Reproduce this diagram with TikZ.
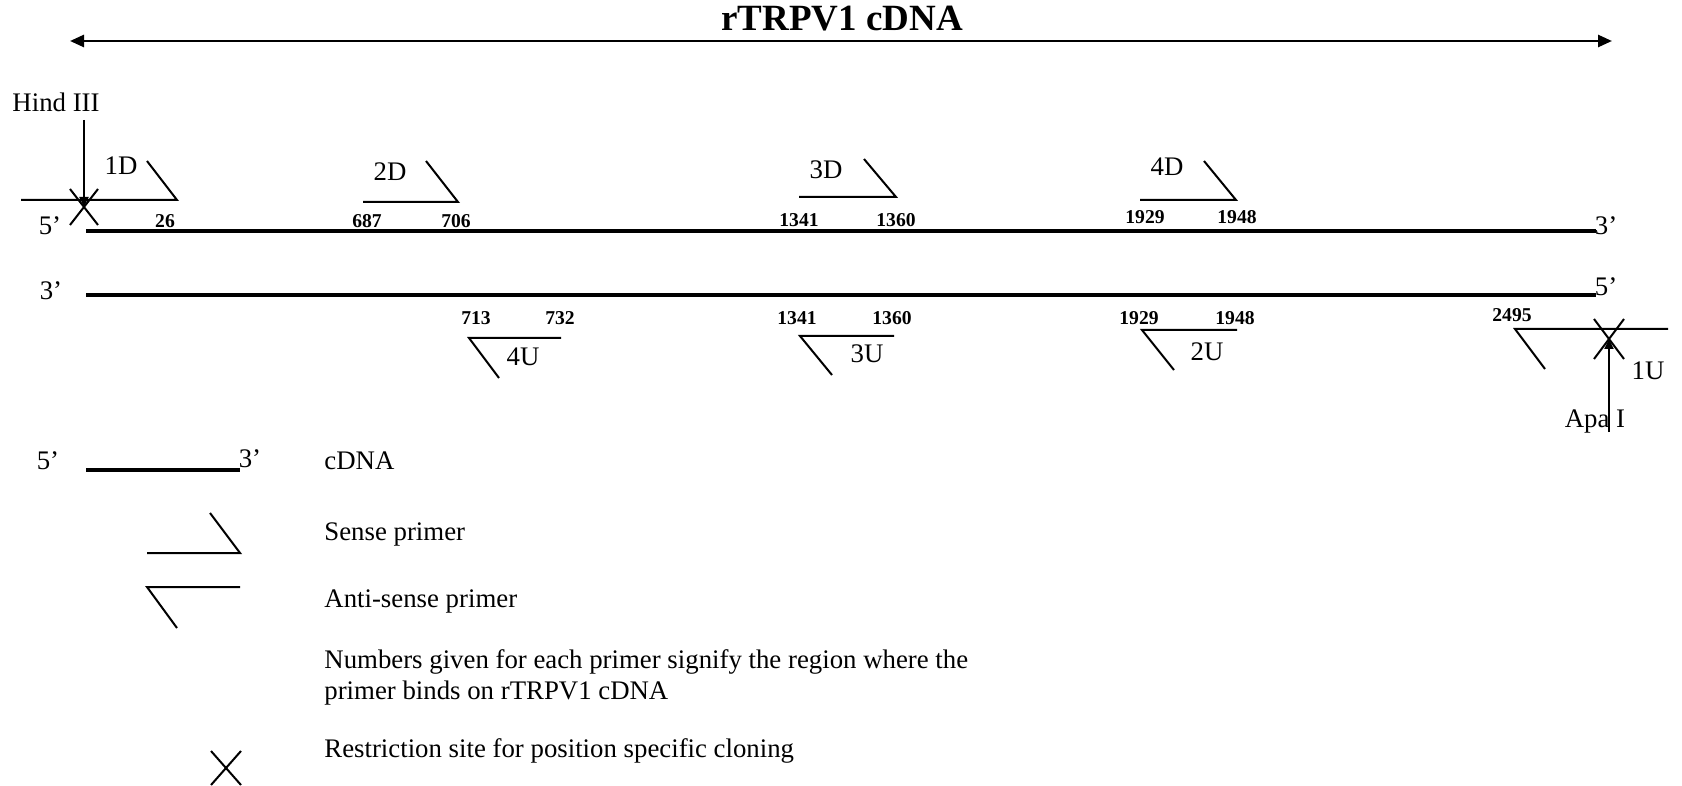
\documentclass[tikz,border=0pt]{standalone}
\usepackage{fontspec}
\setmainfont{Liberation Serif}
\usetikzlibrary{arrows.meta}
\begin{document}
\begin{tikzpicture}[x=0.5pt,y=-0.5pt,
  lbl/.style={font=\fontsize{13.4}{15}\selectfont, inner sep=0pt},
  num/.style={font=\fontsize{9.8}{11}\selectfont\bfseries, inner sep=0pt},
  prim/.style={line width=1pt, line join=miter},
  strand/.style={line width=2pt},
  site/.style={line width=1pt},
  ptr/.style={line width=1pt, -{Triangle[length=5pt,width=4.5pt]}},
  ]
\useasboundingbox (0,0) rectangle (1682,786);
% title and length arrow
\node[font=\fontsize{18.5}{20}\selectfont\bfseries, inner sep=0pt] (title) at (842,19) {rTRPV1 cDNA};
\coordinate (aL) at (70,41);
\coordinate (aR) at (1612,41);
\draw[line width=1.3pt, {Triangle[length=7pt,width=6pt]}-{Triangle[length=7pt,width=6pt]}] (aL) -- (aR);
% top strand
\coordinate (t1) at (86,231);
\coordinate (t2) at (1596,231);
\draw[strand] (t1) -- (t2);
\node[lbl] (t5) at (50,226) {5’};
\node[lbl] (t3) at (1606,226) {3’};
% bottom strand
\coordinate (b1) at (86,295);
\coordinate (b2) at (1596,295);
\draw[strand] (b1) -- (b2);
\node[lbl] (b3) at (51,291) {3’};
\node[lbl] (b5) at (1606,287) {5’};
% Hind III site
\node[lbl] (hind) at (56,102) {Hind III};
\coordinate (hx) at (84,207);
\draw[site] (70,189) -- (98,225) (98,189) -- (70,225);
\draw[ptr] (hind.south -| hx) ++(0,8) -- (hx);
% sense primers
\draw[prim] (21,200) -- (177,200) -- (147,161);
\node[lbl] (p1d) at (121,166) {1D};
\node[num] (n26) at (165,221) {26};
\draw[prim] (363,202) -- (458,202) -- (426,161);
\node[lbl] (p2d) at (390,172) {2D};
\node[num] (n687) at (367,221) {687};
\node[num] (n706) at (456,221) {706};
\draw[prim] (799,197) -- (896,197) -- (864,159);
\node[lbl] (p3d) at (826,170) {3D};
\node[num] (n1341a) at (799,220) {1341};
\node[num] (n1360a) at (896,220) {1360};
\draw[prim] (1140,200) -- (1236,200) -- (1204,161);
\node[lbl] (p4d) at (1167,167) {4D};
\node[num] (n1929a) at (1145,217) {1929};
\node[num] (n1948a) at (1237,217) {1948};
% anti-sense primers
\draw[prim] (561,338) -- (469,338) -- (499,378);
\node[lbl] (p4u) at (523,357) {4U};
\node[num] (n713) at (476,318) {713};
\node[num] (n732) at (560,318) {732};
\draw[prim] (894,336) -- (800,336) -- (832,375);
\node[lbl] (p3u) at (867,354) {3U};
\node[num] (n1341b) at (797,318) {1341};
\node[num] (n1360b) at (892,318) {1360};
\draw[prim] (1237,330) -- (1142,330) -- (1174,370);
\node[lbl] (p2u) at (1207,352) {2U};
\node[num] (n1929b) at (1139,318) {1929};
\node[num] (n1948b) at (1235,318) {1948};
\draw[prim] (1668,329) -- (1515,329) -- (1545,369);
\node[lbl] (p1u) at (1648,371) {1U};
\node[num] (n2495) at (1512,315) {2495};
% Apa I site
\coordinate (ax) at (1609,339);
\draw[site] (1594,319) -- (1624,359) (1624,319) -- (1594,359);
\node[lbl] (apa) at (1595,422) {Apa I};
\coordinate (abot) at (1609,432);
\draw[ptr] (abot) -- (ax);
% legend
\node[lbl] (l5) at (48,461) {5’};
\coordinate (lc1) at (86,470);
\coordinate (lc2) at (240,470);
\draw[line width=1.7pt] (lc1) -- (lc2);
\node[lbl] (l3) at (250,459) {3’};
\node[lbl, anchor=west] (lcdna) at (324,461) {cDNA};
\draw[prim] (147,553) -- (240,553) -- (210,513);
\node[lbl, anchor=west] (lsense) at (324,534) {Sense primer};
\draw[prim] (240,587) -- (147,587) -- (177,628);
\node[lbl, anchor=west] (lanti) at (324,601) {Anti-sense primer};
\node[lbl, anchor=west, align=left, font=\fontsize{13.4}{15.5}\selectfont] (lnum) at (324,677) {Numbers given for each primer signify the region where the\\primer binds on rTRPV1 cDNA};
\draw[site] (211,751) -- (241,785) (241,751) -- (211,785);
\node[lbl, anchor=west] (lsite) at (324,751) {Restriction site for position specific cloning};
\end{tikzpicture}
\end{document}
